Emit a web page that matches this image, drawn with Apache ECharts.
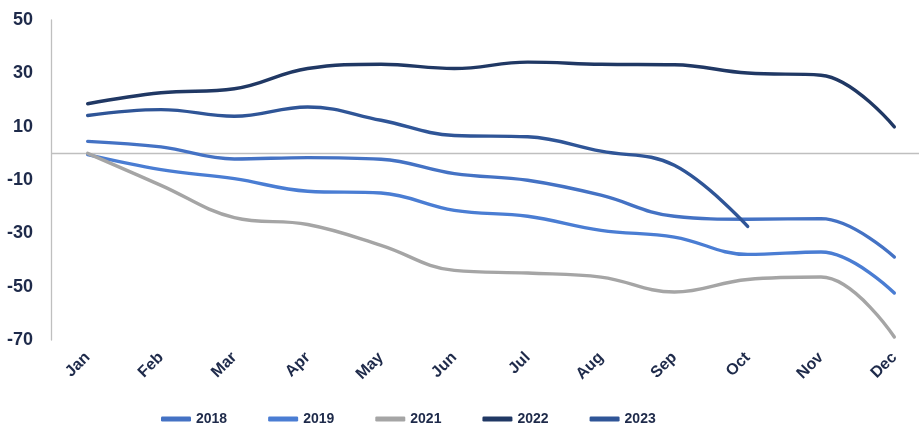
<!DOCTYPE html>
<html>
<head>
<meta charset="utf-8">
<script src="https://cdn.jsdelivr.net/npm/echarts@6/dist/echarts.min.js"></script>
<style>html,body{margin:0;padding:0;background:#fff}#c{width:919px;height:425px}</style>
</head>
<body>
<div id="c"></div>
<script>
var categories = ['Jan','Feb','Mar','Apr','May','Jun','Jul','Aug','Sep','Oct','Nov','Dec'];
var s2018 = [4.5, 2.4, -2.1, -1.6, -2.2, -7.6, -10.1, -15.7, -23.6, -24.7, -24.5, -38.9];
var s2019 = [-0.5, -6.1, -9.5, -14.2, -14.9, -21.4, -23.6, -28.9, -31.4, -37.9, -37.0, -52.4];
var s2021 = [0, -12, -24.1, -26.7, -34.5, -43.9, -44.9, -46.4, -52, -47.3, -46.4, -68.9];
var s2022 = [18.6, 22.7, 24.2, 31.8, 33.4, 31.8, 34.2, 33.4, 33.2, 30.1, 29.3, 9.9];
var s2023 = [14.2, 16.4, 13.9, 17.4, 12.4, 6.7, 6.2, 0.8, -4.5, -27.4, null, null];
var seriesNames = ['2018','2019','2021','2022','2023'];
var yLabels = [-70, -50, -30, -10, 10, 30, 50];

var colors = ['#4472C4', '#4A7DD3', '#A5A5A5', '#203864', '#2F5597'];
var dataSets = [s2018, s2019, s2021, s2022, s2023];
var textColor = '#1E2A4A';

var series = seriesNames.map(function (n, i) {
  var s = {
    name: n, type: 'line', data: dataSets[i], smooth: 0.4, symbol: 'none',
    lineStyle: { width: 3.4, color: colors[i], cap: 'round' },
    itemStyle: { color: colors[i] }, z: 3 + i
  };
  if (i === 0) {
    s.markLine = {
      silent: true, symbol: 'none', label: { show: false },
      lineStyle: { color: '#BFBFBF', width: 1.3, type: 'solid' },
      data: [{ yAxis: 0 }], z: 1
    };
  }
  return s;
});

var chart = echarts.init(document.getElementById('c'), null, { renderer: 'canvas' });
chart.setOption({
  animation: false,
  backgroundColor: '#fff',
  color: colors,
  grid: { left: 51, width: 880, top: 20, bottom: 85, containLabel: false, outerBoundsMode: 'none' },
  legend: {
    left: 156, top: 407, itemGap: 41, itemWidth: 30, itemHeight: 5,
    icon: 'roundRect',
    textStyle: { color: textColor, fontWeight: 'bold', fontSize: 14, fontFamily: 'Liberation Sans' },
    data: seriesNames
  },
  xAxis: {
    type: 'category', data: categories, boundaryGap: true,
    axisLine: { show: false }, axisTick: { show: false },
    axisLabel: { rotate: 45, margin: 15, color: textColor, fontWeight: 'bold', fontSize: 16, fontFamily: 'Liberation Sans', interval: 0 },
    splitLine: { show: false }
  },
  yAxis: {
    type: 'value', min: -70, max: 50, interval: 10,
    axisLine: { show: true, lineStyle: { color: '#BFBFBF', width: 1.3 } },
    axisTick: { show: false },
    splitLine: { show: false },
    axisLabel: {
      margin: 18, color: textColor, fontWeight: 'bold', fontSize: 18, fontFamily: 'Liberation Sans',
      formatter: function (v) { return yLabels.indexOf(Math.round(v)) >= 0 ? String(Math.round(v)) : ''; }
    }
  },
  series: series
});
</script>
</body>
</html>
